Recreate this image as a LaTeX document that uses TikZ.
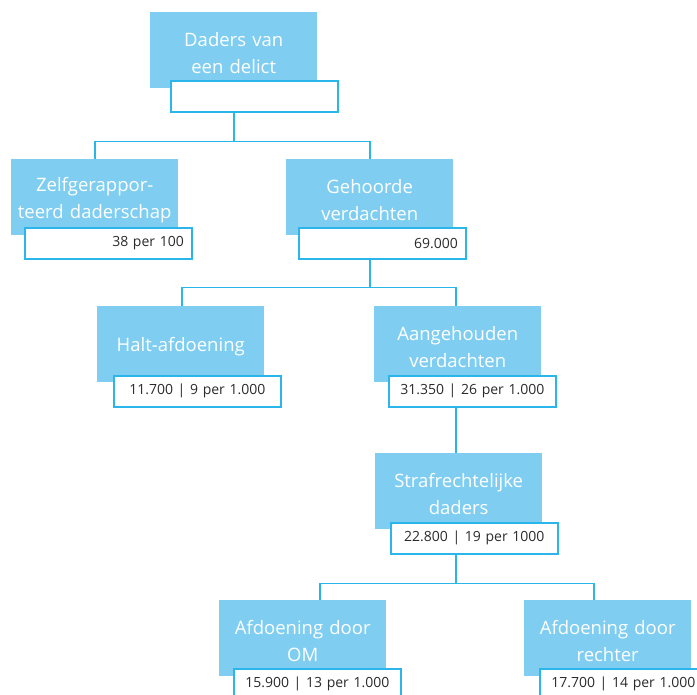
\documentclass[tikz,border=0pt]{standalone}
\usepackage{fontspec}
\setmainfont{Open Sans}
\usepackage{tikz}
\usetikzlibrary{positioning}
\definecolor{blokblauw}{HTML}{7FCEF2}
\definecolor{lijnblauw}{HTML}{2AB6EA}
\definecolor{tekstgrijs}{HTML}{2B2B2B}

\begin{document}
\begin{tikzpicture}[x=1pt, y=-1pt,
    blok/.style={fill=blokblauw, text=white, anchor=north west, minimum width=167pt,
      minimum height=76pt, text width=160pt, align=center, inner sep=0pt,
      font=\fontsize{18.5}{26.5}\selectfont, execute at begin node={\rule{0pt}{20pt}}},
    waarde/.style={draw=lijnblauw, line width=1.6pt, fill=white, text=tekstgrijs,
      anchor=north west, minimum width=167pt, minimum height=31pt, text width=151pt,
      align=center, inner sep=0pt, font=\fontsize{14}{16}\selectfont},
    rechts/.style={align=right},
    lijn/.style={draw=lijnblauw, line width=1.6pt}]
   \useasboundingbox (0,0) rectangle (697,695);
   % blokken
   \node[blok] (daders) at (150,12) {Daders van\\een delict};
   \node[blok] (zelf) at (11,159) {Zelfgerappor-\\teerd daderschap};
   \node[blok] (gehoord) at (286,159) {Gehoorde\\verdachten};
   \node[blok] (halt) at (97,306) {Halt-afdoening};
   \node[blok] (aangeh) at (374,306) {Aangehouden\\verdachten};
   \node[blok] (straf) at (375,453) {Strafrechtelijke\\daders};
   \node[blok] (om) at (219,600) {Afdoening door\\OM};
   \node[blok] (rechter) at (524,600) {Afdoening door\\rechter};
   % waarden
   \node[waarde] (dadersval) at (170,80) {};
   \node[waarde, rechts] (zelfval) at (24,227) {38 per 100};
   \node[waarde, rechts] (gehoordval) at (298,227) {69.000};
   \node[waarde] (haltval) at (113,375) {11.700 | 9 per 1.000};
   \node[waarde] (aangehval) at (388,375) {31.350 | 26 per 1.000};
   \node[waarde] (strafval) at (390,522) {22.800 | 19 per 1000};
   \node[waarde] (omval) at (233,668) {15.900 | 13 per 1.000};
   \node[waarde] (rechterval) at (539,668) {17.700 | 14 per 1.000};
   % verbindingen
   \draw[lijn] (daders.south |- dadersval.south) -- ++(0,29) -| (zelf.north);
   \draw[lijn] (daders.south |- dadersval.south) -- ++(0,29) -| (gehoord.north);
   \draw[lijn] (gehoord.south |- gehoordval.south) -- ++(0,28) -| ([xshift=1.5pt]halt.north);
   \draw[lijn] (gehoord.south |- gehoordval.south) -- ++(0,28) -| ([xshift=-1.5pt]aangeh.north);
   \draw[lijn] ([xshift=-1.5pt]aangeh.south |- aangehval.south) -- ([xshift=-1.5pt]aangeh.south |- straf.north);
   \draw[lijn] ([xshift=-2.5pt]straf.south |- strafval.south) -- ++(0,29) -| ([xshift=17pt]om.north);
   \draw[lijn] ([xshift=-2.5pt]straf.south |- strafval.south) -- ++(0,29) -| ([xshift=-14pt]rechter.north);
\end{tikzpicture}
\end{document}
